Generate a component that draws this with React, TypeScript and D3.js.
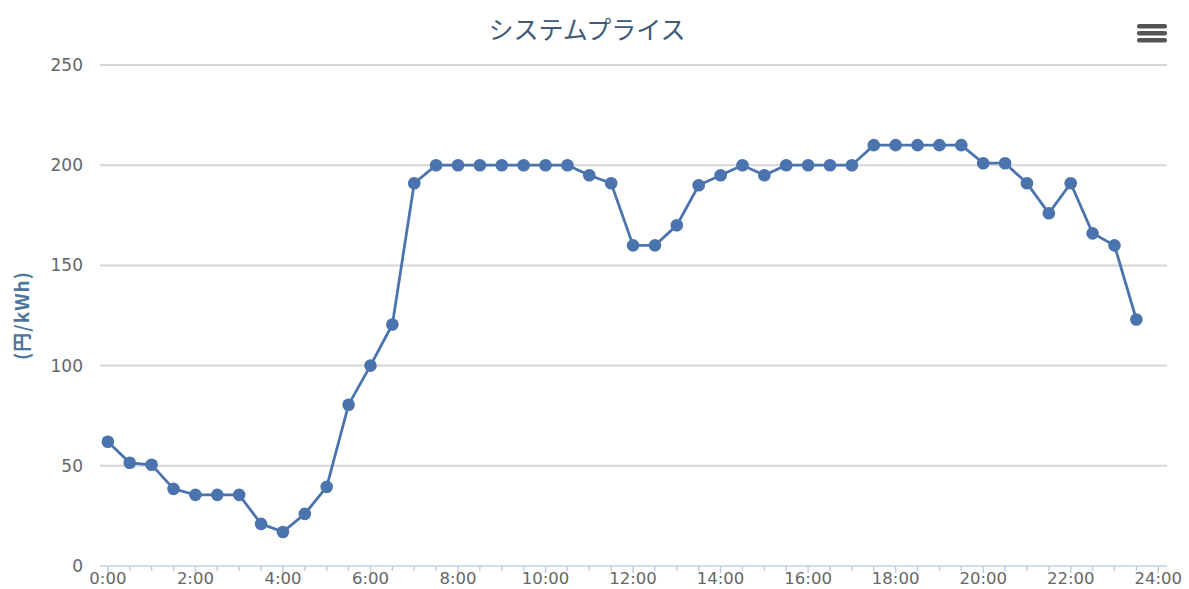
import React from "react";
import * as d3 from "d3";

const title = "システムプライス";
const yAxisTitle = "(円/kWh)";
const hours: number[] = Array.from({ length: 48 }, (_, i) => i * 0.5);
const prices: number[] = [
  62, 51.5, 50.5, 38.5, 35.5, 35.5, 35.5, 21, 17, 26, 39.5, 80.5,
  100, 120.5, 191, 200, 200, 200, 200, 200, 200, 200, 195, 191,
  160, 160, 170, 190, 195, 200, 195, 200, 200, 200, 200, 210,
  210, 210, 210, 210, 201, 201, 191, 176, 191, 166, 160, 123,
];
const yTicks: number[] = [0, 50, 100, 150, 200, 250];
const xLabelTicks: number[] = [0, 2, 4, 6, 8, 10, 12, 14, 16, 18, 20, 22, 24];
const xMinorTicks: number[] = Array.from({ length: 49 }, (_, i) => i * 0.5);

const W = 1189;
const H = 589;
const left = 100;
const right = 1167;
const top = 65;
const bottom = 566;

export default function App() {
  const x = d3.scaleLinear().domain([-0.18, 24.2]).range([left, right]);
  const y = d3.scaleLinear().domain([0, 250]).range([bottom, top]);
  const line = d3
    .line<number>()
    .x((_, i) => x(hours[i]))
    .y((d) => y(d));
  const font = "'DejaVu Sans', 'Noto Sans CJK JP', sans-serif";
  const color = "#4b74ae";
  return (
    <svg
      width={W}
      height={H}
      style={{ position: "absolute", left: 0, top: 0, background: "#fff" }}
      fontFamily={font}
    >
      <text
        x={587}
        y={39}
        textAnchor="middle"
        fontSize={25}
        fill="#3e5a78"
        fontFamily="'Noto Sans CJK JP', sans-serif"
      >
        {title}
      </text>
      {[0, 1, 2].map((i) => (
        <rect
          key={i}
          x={1137}
          y={24 + i * 7}
          width={30}
          height={4.5}
          rx={2}
          fill="#555"
        />
      ))}
      {yTicks.map((t) => (
        <g key={t}>
          {t > 0 && (
            <line
              x1={left}
              x2={right}
              y1={y(t)}
              y2={y(t)}
              stroke="#d6d6d6"
              strokeWidth={2}
            />
          )}
          <text
            x={83}
            y={y(t) + 6}
            textAnchor="end"
            fontSize={17}
            fill="#666"
          >
            {t}
          </text>
        </g>
      ))}
      <text
        transform={`translate(29, ${(top + bottom) / 2}) rotate(-90)`}
        textAnchor="middle"
        fontSize={19}
        fontWeight="bold"
        fill="#4d759e"
        letterSpacing={1}
        fontFamily="'Noto Sans CJK JP', sans-serif"
      >
        {yAxisTitle}
      </text>
      <line x1={left} x2={right} y1={bottom} y2={bottom} stroke="#c0d0e0" strokeWidth={1.5} />
      {xMinorTicks.map((t) => (
        <line
          key={t}
          x1={x(t)}
          x2={x(t)}
          y1={bottom}
          y2={bottom + (t % 2 === 0 ? 7 : 5)}
          stroke="#c0d0e0"
          strokeWidth={1.5}
        />
      ))}
      {xLabelTicks.map((t) => (
        <text
          key={t}
          x={x(t)}
          y={bottom + 18}
          textAnchor="middle"
          fontSize={16.5}
          fill="#666"
        >
          {`${t}:00`}
        </text>
      ))}
      <path d={line(prices) ?? ""} fill="none" stroke={color} strokeWidth={2.8} />
      {prices.map((v, i) => (
        <circle key={i} cx={x(hours[i])} cy={y(v)} r={6.3} fill={color} />
      ))}
    </svg>
  );
}
